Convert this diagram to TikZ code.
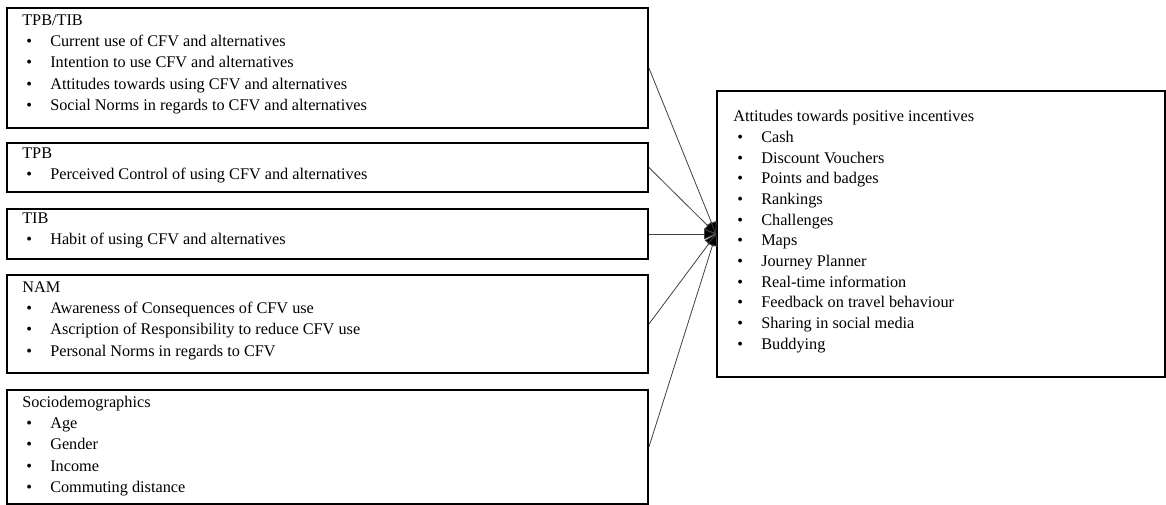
\documentclass[tikz,border=0pt]{standalone}
\usepackage{fontspec}
\setmainfont{Liberation Serif}
\usetikzlibrary{arrows.meta}
\newcommand\itm[1]{\makebox[21pt][l]{\hspace{3pt}\textbullet}#1}
\begin{document}
\begin{tikzpicture}[x=0.75pt,y=-0.75pt,
  box/.style={draw=black,line width=1.4pt,rectangle,inner sep=0pt},
  txt/.style={anchor=north west,align=left,inner sep=0pt,font=\fontsize{12.2pt}{16pt}\selectfont},
  link/.style={draw=black!75,line width=0.6pt,-{Triangle[length=9pt,width=8pt,fill=black]}}]
\useasboundingbox (0,0) rectangle (1166,505);
% left boxes
\node[box,minimum width={641*0.75pt},minimum height={120*0.75pt}] (b1) at (327.5,68) {};
\node[box,minimum width={641*0.75pt},minimum height={49*0.75pt}] (b2) at (327.5,167.5) {};
\node[box,minimum width={641*0.75pt},minimum height={50*0.75pt}] (b3) at (327.5,234) {};
\node[box,minimum width={641*0.75pt},minimum height={98*0.75pt}] (b4) at (327.5,324) {};
\node[box,minimum width={641*0.75pt},minimum height={114*0.75pt}] (b5) at (327.5,447) {};
% right box
\node[box,minimum width={448*0.75pt},minimum height={286*0.75pt}] (r) at (941,234) {};
% texts (anchor at top of first-line strut)
\node[txt] (t1) at (22,10) {\strut TPB/TIB\\
  \itm{Current use of CFV and alternatives}\\
  \itm{Intention to use CFV and alternatives}\\
  \itm{Attitudes towards using CFV and alternatives}\\
  \itm{Social Norms in regards to CFV and alternatives}};
\node[txt] (t2) at (22,143) {\strut TPB\\
  \itm{Perceived Control of using CFV and alternatives}};
\node[txt] (t3) at (22,208) {\strut TIB\\
  \itm{Habit of using CFV and alternatives}};
\node[txt] (t4) at (22,277) {\strut NAM\\
  \itm{Awareness of Consequences of CFV use}\\
  \itm{Ascription of Responsibility to reduce CFV use}\\
  \itm{Personal Norms in regards to CFV}};
\node[txt] (t5) at (22,392) {\strut Sociodemographics\\
  \itm{Age}\\
  \itm{Gender}\\
  \itm{Income}\\
  \itm{Commuting distance}};
\node[txt,font=\fontsize{12.2pt}{15.5pt}\selectfont] (tr) at (733,107) {\strut Attitudes towards positive incentives\\
  \itm{Cash}\\
  \itm{Discount Vouchers}\\
  \itm{Points and badges}\\
  \itm{Rankings}\\
  \itm{Challenges}\\
  \itm{Maps}\\
  \itm{Journey Planner}\\
  \itm{Real-time information}\\
  \itm{Feedback on travel behaviour}\\
  \itm{Sharing in social media}\\
  \itm{Buddying}};
% connectors
\draw[link] (b1.east) -- (r.west);
\draw[link] (b2.east) -- (r.west);
\draw[link] (b3.east) -- (r.west);
\draw[link] (b4.east) -- (r.west);
\draw[link] (b5.east) -- (r.west);
\end{tikzpicture}
\end{document}
